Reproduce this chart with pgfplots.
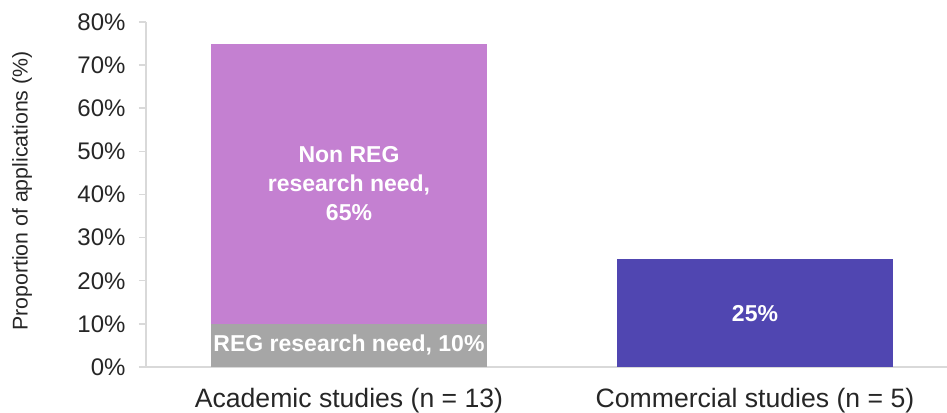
\documentclass[border=0pt]{standalone}
\usepackage{pgfplots}
\pgfplotsset{compat=1.18}
\usepackage{fontspec}
\setmainfont{Liberation Sans}
\definecolor{cpurple}{RGB}{196,128,209}
\definecolor{cgray}{RGB}{166,166,166}
\definecolor{cblue}{RGB}{80,70,177}
\definecolor{axgray}{RGB}{217,217,217}
\definecolor{txt}{RGB}{38,38,38}
\begin{document}
\begin{tikzpicture}
\begin{axis}[
 at={(0,0)}, anchor=south west,
 scale only axis, width=801pt, height=345pt,
 xmin=-0.5, xmax=1.473, ymin=0, ymax=80,
 ybar stacked, bar width=0.68,
 axis x line=bottom, axis y line=left,
 axis line style={axgray, line width=1.5pt, -},
 xtick={0,1},
 xticklabels={Academic studies (n = 13), Commercial studies (n = 5)},
 x tick style={draw=none},
 xticklabel style={font=\fontsize{26.6}{30}\selectfont, text=txt, anchor=base, yshift=-33pt},
 ytick={0,10,20,30,40,50,60,70,80},
 yticklabels={0\%,10\%,20\%,30\%,40\%,50\%,60\%,70\%,80\%},
 y tick style={axgray, line width=1.5pt},
 tick align=outside, major tick length=7pt,
 yticklabel style={font=\fontsize{24}{28}\selectfont, text=txt, xshift=-10pt},
 ylabel={Proportion of applications (\%)},
 ylabel style={font=\fontsize{21.3}{25}\selectfont, text=txt, at={(axis description cs:-0.1548,0.51)}, anchor=center},
 clip=false,
]
\addplot[fill=cgray, draw=none] coordinates {(0,10) (1,0)};
\addplot[fill=cpurple, draw=none] coordinates {(0,65) (1,0)};
\addplot[fill=cblue, draw=none] coordinates {(0,0) (1,25)};
\coordinate (labA) at (axis cs:0,42.5);
\coordinate (labB) at (axis cs:0,5);
\coordinate (labC) at (axis cs:1,12.5);
\end{axis}
\node[align=center, text=white, font=\fontsize{23}{29}\selectfont\bfseries] at (labA) {Non REG\\research need,\\65\%};
\node[text=white, font=\fontsize{23}{29}\selectfont\bfseries] at (labB) {REG research need, 10\%};
\node[text=white, font=\fontsize{23}{29}\selectfont\bfseries] at (labC) {25\%};
\pgfresetboundingbox
\useasboundingbox (-146pt,-45pt) rectangle (801pt,367pt);
\end{tikzpicture}
\end{document}
